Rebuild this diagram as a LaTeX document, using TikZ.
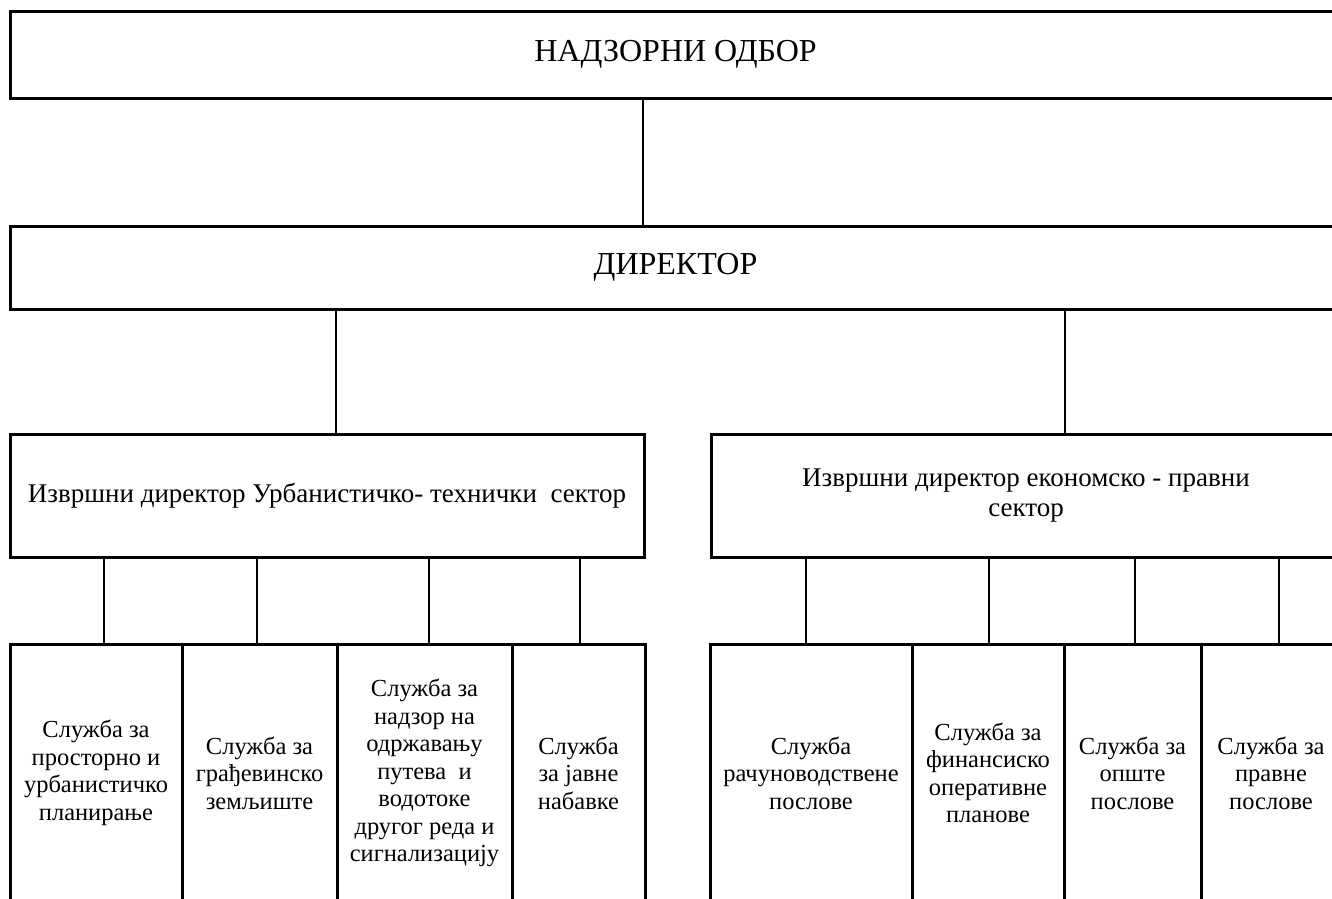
\documentclass[tikz,border=0pt]{standalone}
\usepackage{fontspec}
\setmainfont{LiberationSerif}[Extension=.ttf,UprightFont=*-Regular,BoldFont=*-Bold]

\begin{document}
\begin{tikzpicture}[x=1pt,y=-1pt,
head/.style={%
anchor=north west,
draw,
line width=3pt,
outer sep=0pt,
minimum width=1331pt,
font=\fontsize{32}{36}\selectfont
},
sect/.style={%
anchor=north west,
draw,
line width=3pt,
outer sep=0pt,
minimum height=123.5pt,
align=center,
font=\fontsize{27}{30}\selectfont
},
srv/.style={%
anchor=north west,
draw,
line width=3pt,
outer sep=0pt,
inner sep=0pt,
minimum height=258pt,
align=center,
font=\fontsize{24.5}{27.5}\selectfont
},
link/.style={%
line width=2pt
},
]
\clip(0,0)rectangle(1332,898);
%% top
\node[head,minimum height=87pt]at(10,11)(nadzor){НАДЗОРНИ ОДБОР};
\node[head,minimum height=83pt]at(10,226)(dir){ДИРЕКТОР};
%% sectors
\node[sect,minimum width=634pt]at(10,434)(urb){Извршни директор Урбанистичко- технички~ сектор};
\node[sect,minimum width=630pt]at(711,434)(eko){Извршни директор економско - правни\\сектор};
%% urb
\node[srv,minimum width=172pt]at(10,644)(u1){Служба за\\просторно и\\урбанистичко\\планирање};
\node[srv,minimum width=155pt]at(182,644)(u2){Служба за\\грађевинско\\земљиште};
\node[srv,minimum width=175pt]at(337,644)(u3){Служба за\\надзор на\\одржавању\\путева~ и\\водотоке\\другог реда и\\сигнализацију};
\node[srv,minimum width=133pt]at(512,644)(u4){Служба\\за јавне\\набавке};
%% eko
\node[srv,minimum width=202pt]at(710,644)(e1){Служба\\рачуноводствене\\послове};
\node[srv,minimum width=152pt]at(912,644)(e2){Служба за\\финансиско\\оперативне\\планове};
\node[srv,minimum width=137pt]at(1064,644)(e3){Служба за\\опште\\послове};
\node[srv,minimum width=140pt]at(1201,644)(e4){Служба за\\правне\\послове};
%% links
\draw[link](nadzor.south-|643,0)--(dir.north-|643,0);
\draw[link](dir.south-|336,0)--(urb.north-|336,0);
\draw[link](dir.south-|1065,0)--(eko.north-|1065,0);
\draw[link](urb.south-|104,0)--(u1.north-|104,0);
\draw[link](urb.south-|257,0)--(u2.north-|257,0);
\draw[link](urb.south-|429,0)--(u3.north-|429,0);
\draw[link](urb.south-|580,0)--(u4.north-|580,0);
\draw[link](eko.south-|806,0)--(e1.north-|806,0);
\draw[link](eko.south-|989,0)--(e2.north-|989,0);
\draw[link](eko.south-|1135,0)--(e3.north-|1135,0);
\draw[link](eko.south-|1279,0)--(e4.north-|1279,0);
\end{tikzpicture}
\end{document}
